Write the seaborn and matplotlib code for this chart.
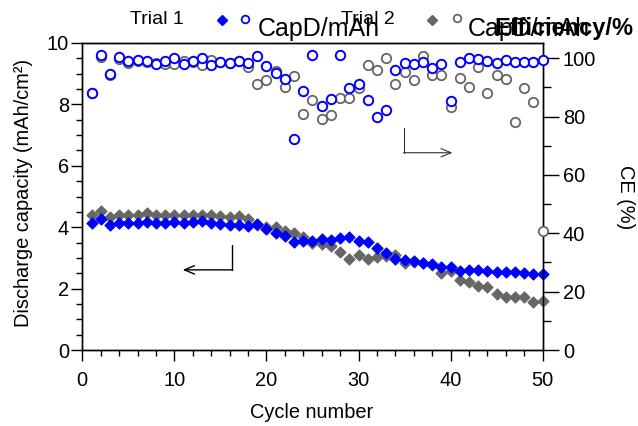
import numpy as np
import pandas as pd
import matplotlib
matplotlib.use('Agg')
import matplotlib.pyplot as plt
import seaborn as sns
from matplotlib.lines import Line2D
from matplotlib.ticker import MultipleLocator

# ---------------- data ----------------
cycles = list(range(1, 51))

cap_trial1 = [4.15, 4.26, 4.08, 4.14, 4.14, 4.15, 4.18, 4.15, 4.15, 4.18,
              4.15, 4.16, 4.19, 4.13, 4.11, 4.08, 4.08, 4.04, 4.11, 3.95,
              3.80, 3.71, 3.52, 3.56, 3.54, 3.60, 3.58, 3.66, 3.67, 3.54,
              3.52, 3.33, 3.17, 2.97, 2.93, 2.89, 2.84, 2.79, 2.71, 2.71,
              2.58, 2.60, 2.60, 2.58, 2.54, 2.54, 2.54, 2.52, 2.48, 2.48]

cap_trial2 = [4.39, 4.54, 4.34, 4.41, 4.39, 4.41, 4.45, 4.41, 4.41, 4.41,
              4.41, 4.41, 4.39, 4.39, 4.37, 4.34, 4.36, 4.28, 4.08, 4.02,
              4.02, 3.89, 3.80, 3.69, 3.47, 3.45, 3.39, 3.20, 2.97, 3.11,
              2.97, 3.03, 3.06, 3.10, 2.83, 2.86, 2.82, 2.76, 2.51, 2.56,
              2.27, 2.20, 2.10, 2.04, 1.82, 1.72, 1.72, 1.72, 1.56, 1.61]

ce_trial1 = [88.2, 101.0, 94.7, 100.3, 99.0, 99.3, 99.2, 98.0, 99.2, 100.0,
             98.0, 99.2, 100.0, 97.6, 98.6, 98.5, 99.2, 98.3, 100.6, 97.4,
             94.9, 93.0, 72.3, 88.8, 101.0, 83.5, 85.9, 101.0, 89.7, 91.1,
             85.7, 79.9, 82.2, 96.1, 98.3, 98.0, 98.6, 96.7, 97.9, 85.2,
             98.6, 100.2, 99.6, 99.0, 98.3, 99.4, 98.7, 98.6, 98.7, 99.4]

ce_trial2 = [88.0, 100.5, 94.2, 99.7, 98.5, 99.0, 98.8, 98.4, 98.0, 98.0,
             99.0, 98.8, 97.5, 99.5, 98.6, 98.3, 99.0, 97.0, 91.1, 92.6,
             95.5, 90.0, 93.9, 80.8, 85.6, 79.3, 80.6, 86.3, 86.3, 89.9,
             97.5, 96.0, 99.9, 91.1, 95.2, 92.5, 100.6, 94.3, 94.4, 83.1,
             93.1, 90.2, 96.9, 87.9, 94.1, 92.9, 78.0, 89.8, 85.0, 40.8]

df = pd.DataFrame({
    'cycle': cycles,
    'cap1': cap_trial1, 'cap2': cap_trial2,
    'ce1': ce_trial1, 'ce2': ce_trial2,
})

BLUE = '#0000FF'
GRAY = '#666666'

# ---------------- style ----------------
sns.set_theme(style='ticks')
plt.rcParams['font.family'] = ['Liberation Sans', 'DejaVu Sans']
plt.rcParams['axes.edgecolor'] = 'black'
plt.rcParams['axes.linewidth'] = 1.0
plt.rcParams['xtick.color'] = 'black'
plt.rcParams['ytick.color'] = 'black'
plt.rcParams['text.color'] = 'black'
plt.rcParams['axes.labelcolor'] = 'black'

W, H = 638, 426
fig = plt.figure(figsize=(W / 100, H / 100), dpi=100)
ax = fig.add_axes([82.3 / W, 76 / H, 460.4 / W, 307 / H])
ax2 = ax.twinx()

# capacity (diamonds)
sns.scatterplot(data=df, x='cycle', y='cap2', ax=ax, marker='D', s=32,
                color=GRAY, edgecolor=GRAY, linewidth=0.8, zorder=3, clip_on=False)
sns.scatterplot(data=df, x='cycle', y='cap1', ax=ax, marker='D', s=32,
                color=BLUE, edgecolor=BLUE, linewidth=0.8, zorder=4, clip_on=False)

# coulombic efficiency (open circles)
sns.scatterplot(data=df, x='cycle', y='ce2', ax=ax2, marker='o', s=46,
                color='white', edgecolor=GRAY, linewidth=1.3, zorder=3, clip_on=False)
sns.scatterplot(data=df, x='cycle', y='ce1', ax=ax2, marker='o', s=46,
                color='white', edgecolor=BLUE, linewidth=1.4, zorder=4, clip_on=False)

ax.set_xlim(0, 50)
ax.set_ylim(0, 10)
ax2.set_ylim(0, 105.2)

ax.xaxis.set_major_locator(MultipleLocator(10))
ax.xaxis.set_minor_locator(MultipleLocator(2))
ax.yaxis.set_major_locator(MultipleLocator(2))
ax.yaxis.set_minor_locator(MultipleLocator(0.5))
ax2.yaxis.set_major_locator(MultipleLocator(20))
ax2.yaxis.set_minor_locator(MultipleLocator(10))

for s in ax.spines.values():
    s.set_visible(True)
    s.set_color('black')
for s in ax2.spines.values():
    s.set_color('black')

FS = 14.4
ax.tick_params(axis='x', which='major', direction='out', length=8, width=1,
               labelsize=FS, pad=7, top=False)
ax.tick_params(axis='x', which='minor', direction='out', length=4, width=1, top=False)
ax.tick_params(axis='y', which='major', direction='out', length=8, width=1,
               labelsize=FS, pad=1.5, right=False)
ax.tick_params(axis='y', which='minor', direction='out', length=4, width=1, right=False)
ax2.tick_params(axis='y', which='major', direction='out', length=11.5, width=1,
                labelsize=FS, pad=3)
ax2.tick_params(axis='y', which='minor', direction='out', length=5.8, width=1)

ax.set_xlabel('Cycle number', fontsize=FS)
ax.set_ylabel('Discharge capacity (mAh/cm²)', fontsize=FS)
ax2.set_ylabel('CE (%)', fontsize=FS, rotation=270)
ax.xaxis.label.set_va('center')
ax.yaxis.label.set_va('center')
ax2.yaxis.label.set_va('center')
ax.xaxis.set_label_coords(0.499, -0.202)
ax.yaxis.set_label_coords(-0.128, 0.51)
ax2.yaxis.set_label_coords(1.179, 0.498)

# arrows indicating axes
ax.plot([16.3, 16.3], [3.42, 2.61], color='black', lw=1.0, zorder=2)
ax.annotate('', xy=(10.9, 2.61), xytext=(16.3, 2.61),
            arrowprops=dict(arrowstyle='->,head_length=0.6,head_width=0.25',
                            lw=1.0, color='black', shrinkA=0, shrinkB=0))
ax2.plot([34.9, 34.9], [76.1, 67.6], color='#333333', lw=0.8, zorder=2)
ax2.annotate('', xy=(40.2, 67.6), xytext=(34.9, 67.6),
             arrowprops=dict(arrowstyle='->,head_length=0.6,head_width=0.25',
                             lw=0.8, color='#333333', shrinkA=0, shrinkB=0))

# legend-like header texts
def fx(px):
    return px / W

def fy(py):
    return 1 - py / H

fig.text(fx(130), fy(20), 'Trial 1', fontsize=14, va='center', ha='left')
fig.add_artist(Line2D([fx(222)], [fy(19.6)], transform=fig.transFigure, marker='D',
                      markersize=5.5, color=BLUE, markeredgecolor=BLUE, linestyle='none'))
fig.add_artist(Line2D([fx(245)], [fy(18.5)], transform=fig.transFigure, marker='o',
                      markersize=5.5, markerfacecolor='white', markeredgecolor=BLUE,
                      markeredgewidth=1.3, linestyle='none'))
fig.text(fx(258), fy(29), 'CapD/mAh', fontsize=18, va='center', ha='left')
fig.text(fx(341), fy(20), 'Trial 2', fontsize=14, va='center', ha='left')
fig.add_artist(Line2D([fx(432)], [fy(19.6)], transform=fig.transFigure, marker='D',
                      markersize=5.5, color=GRAY, markeredgecolor=GRAY, linestyle='none'))
fig.add_artist(Line2D([fx(457)], [fy(17.5)], transform=fig.transFigure, marker='o',
                      markersize=5.5, markerfacecolor='white', markeredgecolor=GRAY,
                      markeredgewidth=1.3, linestyle='none'))
fig.text(fx(468), fy(29), 'CapD/mAh', fontsize=18, va='center', ha='left')
fig.text(fx(494), fy(29), 'Efficiency/%', fontsize=17, fontweight='bold',
         va='center', ha='left')

fig.savefig('out.png', dpi=100)
